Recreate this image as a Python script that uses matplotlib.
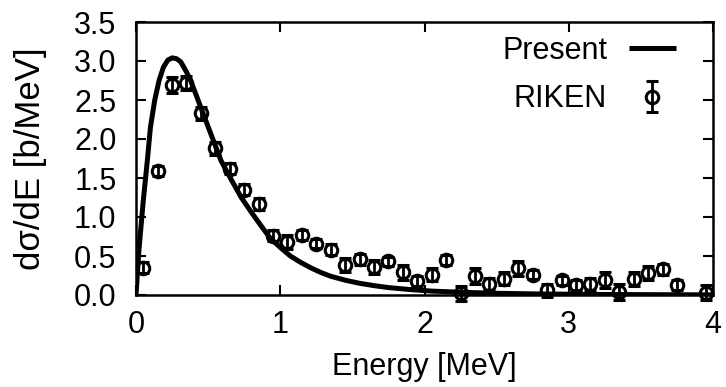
import numpy as np
import matplotlib
matplotlib.use("Agg")
import matplotlib.pyplot as plt

plt.rcParams['font.family'] = ['Liberation Sans', 'DejaVu Sans']

# theory curve ("Present")
E_th = [0, 0.02, 0.05, 0.08, 0.10, 0.13, 0.16, 0.19, 0.22, 0.25, 0.28, 0.31,
        0.35, 0.38, 0.42, 0.45, 0.52, 0.59, 0.66, 0.73, 0.80, 0.87, 0.93, 1.00,
        1.07, 1.14, 1.21, 1.28, 1.35, 1.45, 1.55, 1.65, 1.75, 1.90, 2.05, 2.25,
        2.50, 2.80, 3.20, 3.60, 4.00]
sig_th = [0, 0.57, 1.2, 1.75, 2.15, 2.5, 2.75, 2.92, 3.01, 3.04, 3.03, 2.99,
          2.86, 2.74, 2.55, 2.40, 2.06, 1.72, 1.48, 1.25, 1.06, 0.88, 0.73, 0.61,
          0.50, 0.42, 0.35, 0.29, 0.24, 0.19, 0.15, 0.12, 0.095, 0.07, 0.05, 0.035,
          0.022, 0.013, 0.007, 0.004, 0.002]

# RIKEN data points
E_exp = [0.05, 0.15, 0.25, 0.35, 0.45, 0.55, 0.65, 0.75, 0.85, 0.95,
         1.05, 1.15, 1.25, 1.35, 1.45, 1.55, 1.65, 1.75, 1.85, 1.95,
         2.05, 2.15, 2.25, 2.35, 2.45, 2.55, 2.65, 2.75, 2.85, 2.95,
         3.05, 3.15, 3.25, 3.35, 3.45, 3.55, 3.65, 3.75, 3.95]
sig_exp = [0.35, 1.59, 2.69, 2.72, 2.33, 1.88, 1.62, 1.35, 1.17, 0.76,
           0.68, 0.77, 0.66, 0.58, 0.39, 0.46, 0.36, 0.43, 0.29, 0.18,
           0.26, 0.45, 0.02, 0.24, 0.14, 0.21, 0.34, 0.26, 0.06, 0.19,
           0.13, 0.14, 0.19, 0.04, 0.20, 0.28, 0.33, 0.13, 0.03]
err_exp = [0.07, 0.06, 0.10, 0.09, 0.08, 0.08, 0.07, 0.07, 0.08, 0.07,
           0.09, 0.06, 0.06, 0.07, 0.09, 0.07, 0.09, 0.06, 0.10, 0.07,
           0.08, 0.06, 0.10, 0.10, 0.08, 0.08, 0.09, 0.06, 0.08, 0.06,
           0.06, 0.08, 0.10, 0.10, 0.09, 0.09, 0.07, 0.06, 0.10]

fig = plt.figure(figsize=(7.26, 3.87), dpi=100)
ax = fig.add_axes([136/726, 1 - 295/387, 577/726, 273/387])

ax.plot(E_th, sig_th, color='black', lw=3.6, label='Present', solid_capstyle='butt')
ax.errorbar(E_exp, sig_exp, yerr=err_exp, fmt='o', mfc='none', mec='black',
            ms=9, mew=2.2, ecolor='black', elinewidth=2, capsize=4, capthick=2,
            color='black', label='RIKEN', clip_on=False)

ax.set_xlim(0, 4)
ax.set_ylim(0, 3.5)
ax.set_xticks([0, 1, 2, 3, 4])
ax.set_yticks(np.arange(0, 3.51, 0.5))
ax.set_yticklabels(['%.1f' % v for v in np.arange(0, 3.51, 0.5)])
ax.tick_params(direction='in', length=7, width=1.5, labelsize=22,
               top=True, right=True)
ax.tick_params(axis='x', pad=11)
ax.tick_params(axis='y', pad=14)
for s in ax.spines.values():
    s.set_linewidth(1.8)

ax.set_xlabel('Energy [MeV]', fontsize=22, va='center')
ax.set_ylabel('dσ/dE [b/MeV]', fontsize=25, va='center')
ax.xaxis.set_label_coords(0.5, (295 - 367) / 273)
ax.yaxis.set_label_coords((31 - 136) / 577, 0.5)

leg = ax.legend(loc='upper right', bbox_to_anchor=(676/726, 1 - 36/387),
                bbox_transform=fig.transFigure, frameon=False, markerfirst=False,
                fontsize=22, handlelength=1.55, handletextpad=0.7,
                labelspacing=0.6, borderpad=0, borderaxespad=0)

fig.savefig('out.png', dpi=100)
